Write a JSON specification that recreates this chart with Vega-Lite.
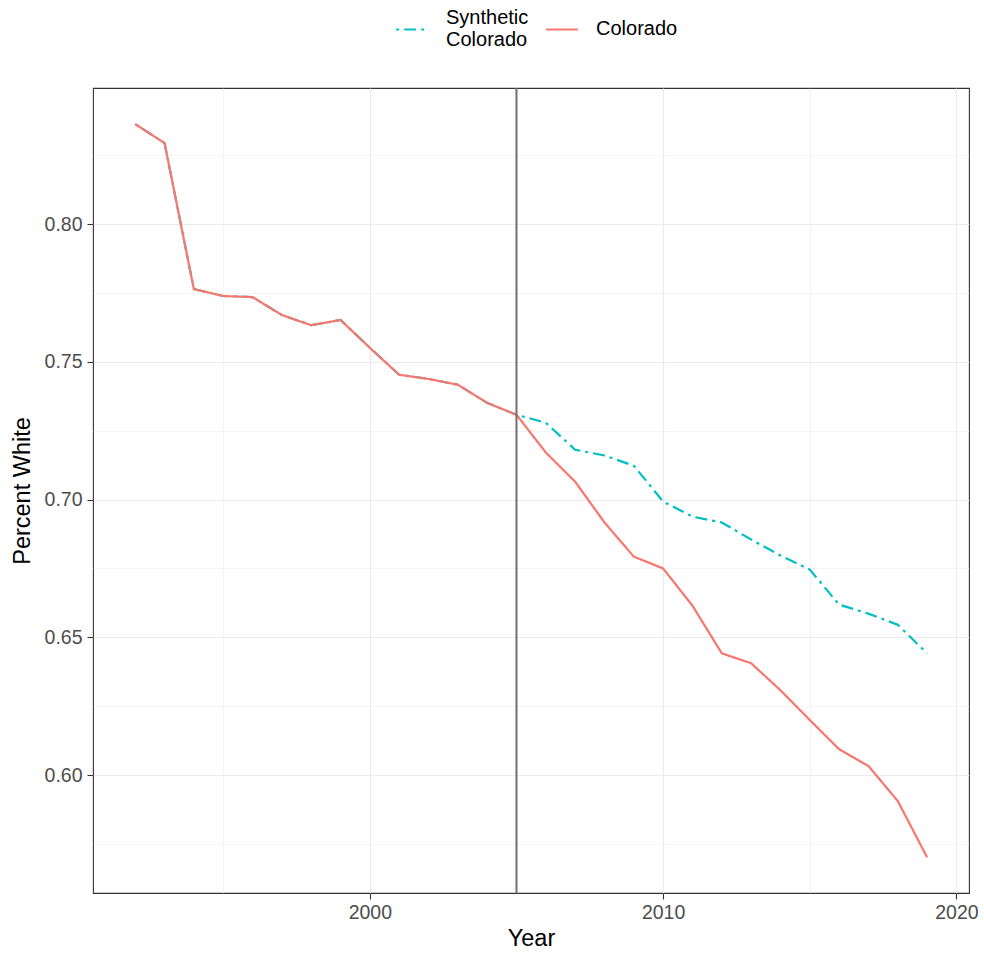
{
  "$schema": "https://vega.github.io/schema/vega-lite/v6.json",
  "width": 876,
  "height": 805,
  "autosize": {"type": "none"},
  "padding": {"left": 93, "top": 88, "right": 15, "bottom": 61},
  "background": "white",
  "config": {
    "font": "Liberation Sans",
    "view": {"stroke": "#333333", "strokeWidth": 1.1},
    "axis": {
      "domain": false,
      "gridColor": "#EBEBEB",
      "tickColor": "#333333",
      "tickSize": 6,
      "tickWidth": 1.1,
      "labelColor": "#4D4D4D",
      "labelFontSize": 19.5,
      "titleFontSize": 23.5,
      "titleFontWeight": "normal",
      "titleColor": "black"
    },
    "legend": {
      "orient": "none",
      "legendX": 302,
      "legendY": -76,
      "direction": "horizontal",
      "symbolType": "M0,-2M0,2M-1,0H1",
      "symbolSize": 1000,
      "symbolStrokeWidth": 2.2,
      "labelFontSize": 20,
      "labelColor": "black",
      "labelOffset": 17,
      "columnPadding": 12,
      "padding": 0
    }
  },
  "data": {
    "values": [
      {"year": 1992, "series": "Synthetic Colorado", "white": 0.8363},
      {"year": 1993, "series": "Synthetic Colorado", "white": 0.8294},
      {"year": 1994, "series": "Synthetic Colorado", "white": 0.7764},
      {"year": 1995, "series": "Synthetic Colorado", "white": 0.7739},
      {"year": 1996, "series": "Synthetic Colorado", "white": 0.7735},
      {"year": 1997, "series": "Synthetic Colorado", "white": 0.767},
      {"year": 1998, "series": "Synthetic Colorado", "white": 0.7633},
      {"year": 1999, "series": "Synthetic Colorado", "white": 0.7652},
      {"year": 2000, "series": "Synthetic Colorado", "white": 0.7551},
      {"year": 2001, "series": "Synthetic Colorado", "white": 0.7453},
      {"year": 2002, "series": "Synthetic Colorado", "white": 0.7438},
      {"year": 2003, "series": "Synthetic Colorado", "white": 0.7417},
      {"year": 2004, "series": "Synthetic Colorado", "white": 0.7351},
      {"year": 2005, "series": "Synthetic Colorado", "white": 0.7308},
      {"year": 2006, "series": "Synthetic Colorado", "white": 0.7279},
      {"year": 2007, "series": "Synthetic Colorado", "white": 0.7181},
      {"year": 2008, "series": "Synthetic Colorado", "white": 0.716},
      {"year": 2009, "series": "Synthetic Colorado", "white": 0.7123},
      {"year": 2010, "series": "Synthetic Colorado", "white": 0.6993},
      {"year": 2011, "series": "Synthetic Colorado", "white": 0.6938},
      {"year": 2012, "series": "Synthetic Colorado", "white": 0.6917},
      {"year": 2013, "series": "Synthetic Colorado", "white": 0.6855},
      {"year": 2014, "series": "Synthetic Colorado", "white": 0.6797},
      {"year": 2015, "series": "Synthetic Colorado", "white": 0.6746},
      {"year": 2016, "series": "Synthetic Colorado", "white": 0.6619},
      {"year": 2017, "series": "Synthetic Colorado", "white": 0.6586},
      {"year": 2018, "series": "Synthetic Colorado", "white": 0.6546},
      {"year": 2019, "series": "Synthetic Colorado", "white": 0.6442},
      {"year": 1992, "series": "Colorado", "white": 0.8363},
      {"year": 1993, "series": "Colorado", "white": 0.8294},
      {"year": 1994, "series": "Colorado", "white": 0.7764},
      {"year": 1995, "series": "Colorado", "white": 0.7739},
      {"year": 1996, "series": "Colorado", "white": 0.7735},
      {"year": 1997, "series": "Colorado", "white": 0.767},
      {"year": 1998, "series": "Colorado", "white": 0.7633},
      {"year": 1999, "series": "Colorado", "white": 0.7652},
      {"year": 2000, "series": "Colorado", "white": 0.7551},
      {"year": 2001, "series": "Colorado", "white": 0.7453},
      {"year": 2002, "series": "Colorado", "white": 0.7438},
      {"year": 2003, "series": "Colorado", "white": 0.7417},
      {"year": 2004, "series": "Colorado", "white": 0.7351},
      {"year": 2005, "series": "Colorado", "white": 0.7308},
      {"year": 2006, "series": "Colorado", "white": 0.7171},
      {"year": 2007, "series": "Colorado", "white": 0.7065},
      {"year": 2008, "series": "Colorado", "white": 0.6917},
      {"year": 2009, "series": "Colorado", "white": 0.6793},
      {"year": 2010, "series": "Colorado", "white": 0.675},
      {"year": 2011, "series": "Colorado", "white": 0.6615},
      {"year": 2012, "series": "Colorado", "white": 0.6442},
      {"year": 2013, "series": "Colorado", "white": 0.6406},
      {"year": 2014, "series": "Colorado", "white": 0.6308},
      {"year": 2015, "series": "Colorado", "white": 0.62},
      {"year": 2016, "series": "Colorado", "white": 0.6094},
      {"year": 2017, "series": "Colorado", "white": 0.6033},
      {"year": 2018, "series": "Colorado", "white": 0.5906},
      {"year": 2019, "series": "Colorado", "white": 0.5702}
    ]
  },
  "layer": [
    {
      "mark": {"type": "line", "strokeWidth": 2.2},
      "encoding": {
        "x": {
          "field": "year",
          "type": "quantitative",
          "title": "Year",
          "scale": {"domain": [1990.56, 2020.43], "nice": false, "zero": false},
          "axis": {
            "values": [1995, 2000, 2005, 2010, 2015, 2020],
            "labelExpr": "datum.value % 10 == 0 ? datum.value + '' : ''",
            "gridWidth": {"condition": {"test": "datum.value % 10 == 0", "value": 1.1}, "value": 0.55},
            "tickOpacity": {"condition": {"test": "datum.value % 10 == 0", "value": 1}, "value": 0},
            "labelPadding": 4,
            "titlePadding": 5
          }
        },
        "y": {
          "field": "white",
          "type": "quantitative",
          "title": "Percent White",
          "scale": {"domain": [0.5572, 0.8494], "nice": false, "zero": false},
          "axis": {
            "values": [0.575, 0.6, 0.625, 0.65, 0.675, 0.7, 0.725, 0.75, 0.775, 0.8, 0.825],
            "labelExpr": "abs(datum.value * 20 - round(datum.value * 20)) < 0.01 ? format(datum.value, '.2f') : ''",
            "gridWidth": {"condition": {"test": "abs(datum.value * 20 - round(datum.value * 20)) < 0.01", "value": 1.1}, "value": 0.55},
            "tickOpacity": {"condition": {"test": "abs(datum.value * 20 - round(datum.value * 20)) < 0.01", "value": 1}, "value": 0},
            "labelPadding": 5,
            "titlePadding": 10
          }
        },
        "color": {
          "field": "series",
          "type": "nominal",
          "title": null,
          "scale": {"domain": ["Synthetic Colorado", "Colorado"], "range": ["#00BFC4", "#F8766D"]},
          "legend": {
            "labelExpr": "datum.label == 'Synthetic Colorado' ? ['Synthetic', 'Colorado'] : datum.label",
            "labelBaseline": {"expr": "datum.label == 'Synthetic Colorado' ? 'line-bottom' : 'middle'"}
          }
        },
        "strokeDash": {
          "field": "series",
          "type": "nominal",
          "title": null,
          "scale": {"domain": ["Synthetic Colorado", "Colorado"], "range": [[3, 5, 12, 5], [1, 0]]},
          "legend": {
            "labelExpr": "datum.label == 'Synthetic Colorado' ? ['Synthetic', 'Colorado'] : datum.label",
            "labelBaseline": {"expr": "datum.label == 'Synthetic Colorado' ? 'line-bottom' : 'middle'"}
          }
        }
      }
    },
    {
      "data": {"values": [{"year": 2005}]},
      "mark": {"type": "rule", "color": "#6e6e6e", "strokeWidth": 2},
      "encoding": {"x": {"field": "year", "type": "quantitative"}}
    }
  ]
}
